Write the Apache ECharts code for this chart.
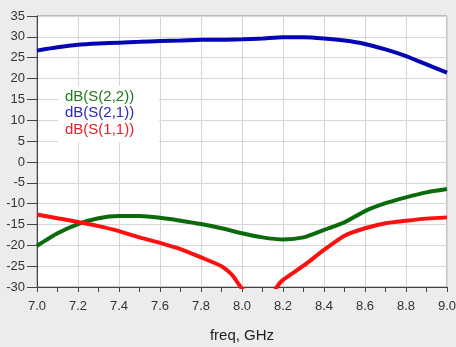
<!DOCTYPE html>
<html>
<head>
<meta charset="utf-8">
<script src="https://cdn.jsdelivr.net/npm/echarts@6/dist/echarts.min.js"></script>
<style>
  html, body { margin: 0; padding: 0; background: #ececec; }
  #chart { width: 456px; height: 347px; }
</style>
</head>
<body>
<div id="chart"></div>
<script>
// 频率 (GHz)
const freq = [7.0, 7.1, 7.2, 7.3, 7.4, 7.5, 7.6, 7.7, 7.8, 7.9, 8.0,
  8.1, 8.2, 8.3, 8.4, 8.5, 8.6, 8.7, 8.8, 8.9, 9.0];
const s21 = [26.7, 27.5, 28.1, 28.4, 28.6, 28.8, 29.0, 29.1, 29.3, 29.3, 29.4,
  29.6, 29.9, 29.9, 29.6, 29.1, 28.3, 27.0, 25.4, 23.4, 21.4];
const s22 = [-20.1, -17.1, -14.9, -13.5, -13.0, -13.0, -13.4, -14.1, -14.9, -15.9, -17.1,
  -18.1, -18.6, -18.1, -16.3, -14.5, -11.8, -9.9, -8.5, -7.3, -6.5];
// S11 dips below the axis floor around 8.1 GHz
const freqS11 = [7.0, 7.1, 7.2, 7.3, 7.4, 7.5, 7.6, 7.7, 7.8, 7.9, 7.95, 8.0,
  8.1, 8.17, 8.2, 8.3, 8.4, 8.5, 8.6, 8.7, 8.8, 8.9, 9.0];
const s11 = [-12.6, -13.5, -14.4, -15.4, -16.6, -18.1, -19.4, -20.9, -22.9, -25.0, -27.0, -30.4,
  -36.0, -30.0, -28.3, -24.9, -21.1, -17.7, -15.9, -14.7, -14.1, -13.6, -13.3];
const legendNames = ['dB(S(2,2))', 'dB(S(2,1))', 'dB(S(1,1))'];

const pairs = (xs, ys) => xs.map((x, i) => [x, ys[i]]);

const myChart = echarts.init(document.getElementById('chart'));
const options = {
  backgroundColor: '#ececec',
  animation: false,
  grid: {
    left: 37, right: 9, top: 16, bottom: 60,
    outerBoundsMode: 'none',
    containLabel: false,
    show: true,
    backgroundColor: '#ffffff',
    borderColor: '#8c8c8c',
    borderWidth: 1,
  },
  legend: {
    orient: 'vertical',
    left: 58,
    top: 86,
    icon: 'none',
    itemWidth: 0,
    itemHeight: 14,
    itemGap: 1.5,
    padding: [3, 25, 5, 2],
    backgroundColor: '#ffffff',
    textStyle: { fontFamily: 'Liberation Sans, Arial', fontSize: 15 },
    data: [
      { name: legendNames[0], textStyle: { color: '#1f7a1f' } },
      { name: legendNames[1], textStyle: { color: '#2828b4' } },
      { name: legendNames[2], textStyle: { color: '#e0222a' } },
    ],
  },
  xAxis: {
    type: 'value',
    min: 7,
    max: 9,
    interval: 0.2,
    name: 'freq, GHz',
    nameLocation: 'middle',
    nameGap: 41,
    nameTextStyle: { fontFamily: 'Liberation Sans, Arial', fontSize: 15, color: '#222' },
    axisLine: { onZero: false, lineStyle: { color: '#444' } },
    axisTick: { length: 5, lineStyle: { color: '#444' } },
    minorTick: { show: true, splitNumber: 2, length: 5, lineStyle: { color: '#444' } },
    axisLabel: {
      margin: 13,
      fontFamily: 'Liberation Sans, Arial',
      fontSize: 13,
      color: '#333',
      formatter: (v) => v.toFixed(1),
    },
    splitLine: { show: true, lineStyle: { color: '#d6d6d6' } },
  },
  yAxis: {
    type: 'value',
    min: -30,
    max: 35,
    interval: 5,
    axisLine: { show: true, onZero: false, lineStyle: { color: '#444' } },
    axisTick: { show: true, length: 10, lineStyle: { color: '#444' } },
    axisLabel: {
      margin: 12,
      fontFamily: 'Liberation Sans, Arial',
      fontSize: 13,
      color: '#333',
    },
    splitLine: { show: true, lineStyle: { color: '#d6d6d6' } },
  },
  series: [
    {
      name: legendNames[0], type: 'line', showSymbol: false, smooth: 0.2,
      lineStyle: { width: 4, color: '#0b6a0b' }, itemStyle: { color: '#0b6a0b' },
      data: pairs(freq, s22),
    },
    {
      name: legendNames[1], type: 'line', showSymbol: false, smooth: 0.2,
      lineStyle: { width: 4, color: '#0505b4' }, itemStyle: { color: '#0505b4' },
      data: pairs(freq, s21),
    },
    {
      name: legendNames[2], type: 'line', showSymbol: false, smooth: 0.2, clip: true,
      lineStyle: { width: 4, color: '#ff1010' }, itemStyle: { color: '#ff1010' },
      data: pairs(freqS11, s11),
    },
  ],
};
myChart.setOption(options);
</script>
</body>
</html>
